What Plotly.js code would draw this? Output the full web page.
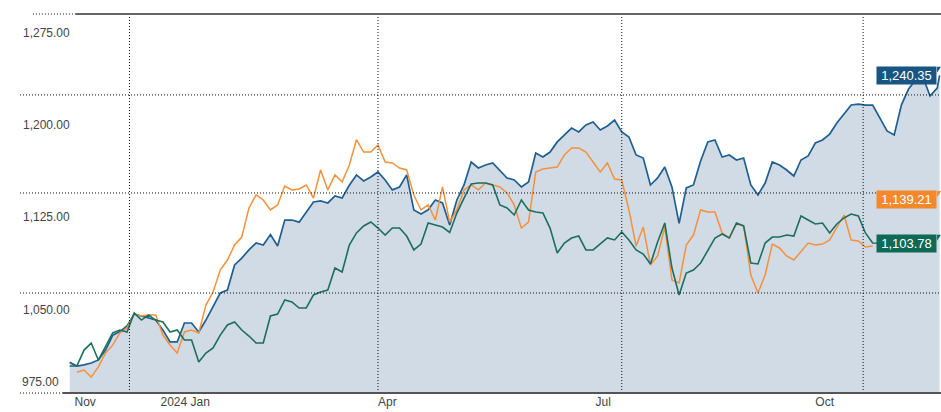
<!DOCTYPE html>
<html>
<head>
<meta charset="utf-8">
<script src="https://cdn.plot.ly/plotly-3.0.1.min.js"></script>
<style>
  html, body { margin: 0; padding: 0; background: #fff; }
  #chart { width: 941px; height: 412px; }
</style>
</head>
<body>
<div id="chart"></div>
<script>
// one point every 3 days
const dates = [
  '2023-11-24','2023-11-27','2023-11-30','2023-12-03','2023-12-06','2023-12-09','2023-12-12','2023-12-15','2023-12-18','2023-12-21',
  '2023-12-24','2023-12-27','2023-12-30','2024-01-02','2024-01-05','2024-01-08','2024-01-11','2024-01-14','2024-01-17','2024-01-20',
  '2024-01-23','2024-01-26','2024-01-29','2024-02-01','2024-02-04','2024-02-07','2024-02-10','2024-02-13','2024-02-16','2024-02-19',
  '2024-02-22','2024-02-25','2024-02-28','2024-03-02','2024-03-05','2024-03-08','2024-03-11','2024-03-14','2024-03-17','2024-03-20',
  '2024-03-23','2024-03-26','2024-03-29','2024-04-01','2024-04-04','2024-04-07','2024-04-10','2024-04-13','2024-04-16','2024-04-19',
  '2024-04-22','2024-04-25','2024-04-28','2024-05-01','2024-05-04','2024-05-07','2024-05-10','2024-05-13','2024-05-16','2024-05-19',
  '2024-05-22','2024-05-25','2024-05-28','2024-05-31','2024-06-03','2024-06-06','2024-06-09','2024-06-12','2024-06-15','2024-06-18',
  '2024-06-21','2024-06-24','2024-06-27','2024-06-30','2024-07-03','2024-07-06','2024-07-09','2024-07-12','2024-07-15','2024-07-18',
  '2024-07-21','2024-07-24','2024-07-27','2024-07-30','2024-08-02','2024-08-05','2024-08-08','2024-08-11','2024-08-14','2024-08-17',
  '2024-08-20','2024-08-23','2024-08-26','2024-08-29','2024-09-01','2024-09-04','2024-09-07','2024-09-10','2024-09-13','2024-09-16',
  '2024-09-19','2024-09-22','2024-09-25','2024-09-28','2024-10-01','2024-10-04','2024-10-07','2024-10-10','2024-10-13','2024-10-16',
  '2024-10-19','2024-10-22','2024-10-25','2024-10-28','2024-10-31','2024-11-03','2024-11-06','2024-11-09','2024-11-12','2024-11-15',
  '2024-11-18','2024-11-21','2024-11-22'
]

const blueVals = [
  1007, 1004, 1005, 1006.5, 1009, 1017, 1029, 1032, 1036.6, 1046.3,
  1044.7, 1043, 1041.4, 1033.3, 1023.6, 1023.6, 1039, 1039, 1031.7, 1041.4,
  1052, 1063.4, 1065.8, 1086.2, 1091.8, 1098.4, 1104, 1102.4, 1111, 1101.6,
  1122.7, 1122.7, 1121, 1129.2, 1137.4, 1138.2, 1136.6, 1142.3, 1140.6, 1151,
  1159.4, 1154.5, 1157.7, 1161.8, 1155.3, 1147.2, 1149.6, 1159.4, 1130.9, 1127.6,
  1131, 1139, 1136.6, 1118.7, 1139, 1151.2, 1169.9, 1165, 1167.5, 1169.1,
  1163.4, 1156.9, 1155.3, 1149.6, 1153.6, 1177.2, 1174, 1178, 1186.2, 1191.8,
  1197.5, 1194.3, 1200, 1202.4, 1195.9, 1199.2, 1204, 1194.3, 1190.2, 1175.6,
  1173.1, 1151.2, 1156.9, 1165.8, 1149.6, 1120, 1148.8, 1151.2, 1170.7, 1186.2,
  1187.8, 1173.9, 1175.6, 1171.5, 1173.1, 1151.2, 1143.1, 1152.8, 1169.9, 1167.5,
  1163.4, 1158.5, 1171.5, 1174.8, 1185.3, 1187.8, 1192.6, 1201.6, 1208.9, 1216.2,
  1217, 1216.2, 1216.2, 1205.7, 1195.1, 1191.8, 1216.2, 1229.2, 1236.6, 1239,
  1223.6, 1230, 1240.35
]

const orangeVals = [
  null, 999, 1000.8, 995, 1003.3, 1014.6, 1021, 1030.9, 1035, 1046.3,
  1044.7, 1045.5, 1045.5, 1029.2, 1021.1, 1014.6, 1031.7, 1033.3, 1030.9, 1053.6,
  1064.2, 1082.1, 1090.2, 1102.4, 1108.9, 1132.5, 1143.1, 1139, 1130.9, 1135,
  1150.4, 1147.2, 1148, 1151.2, 1140.6, 1163.4, 1147.2, 1159.4, 1153.6, 1167.5,
  1188, 1178, 1178, 1183.7, 1169.9, 1169.1, 1165, 1163.4, 1143.1, 1130.9,
  1135, 1122.7, 1149.6, 1121.1, 1130.9, 1147.2, 1151.2, 1147.2, 1152.8, 1151.2,
  1149.6, 1144.7, 1135, 1116.2, 1121.1, 1161.8, 1164.2, 1165, 1165.8, 1175.6,
  1181.3, 1181.3, 1178, 1169.9, 1161.8, 1169.1, 1156.1, 1155.3, 1130.9, 1101.6,
  1117, 1086.2, 1093.5, 1117, 1074, 1071.5, 1102.4, 1110.5, 1130.9, 1129.2,
  1129.2, 1112.2, 1108.1, 1119.5, 1117.9, 1078, 1063.4, 1078, 1103.2, 1100,
  1093.5, 1090.2, 1096.7, 1104, 1102.4, 1103.2, 1106.5, 1117, 1126.8, 1106.5,
  1105.7, 1100.8, 1101.6
]

const greenVals = [
  1004, 1004, 1017, 1022.7, 1008.9, 1020.3, 1030.9, 1033.3, 1031.7, 1047.1,
  1041.4, 1045.5, 1041.4, 1039.8, 1031.7, 1033.3, 1025.2, 1025.2, 1007.3, 1014.6,
  1018.7, 1029.2, 1037.4, 1039.8, 1033.3, 1028.4, 1022.7, 1022.7, 1044.7, 1046.3,
  1057.7, 1056.1, 1051.2, 1051.2, 1061.8, 1064.2, 1065.8, 1083.7, 1080.5, 1102.4,
  1112.2, 1117.9, 1121.1, 1116.2, 1110.5, 1116.2, 1116.2, 1109.7, 1098.4, 1103.2,
  1120.3, 1118.7, 1117, 1112.6, 1128.4, 1140.6, 1152, 1152.8, 1152.8, 1151.2,
  1135, 1132.5, 1126.8, 1139, 1130.9, 1129.2, 1128.4, 1116.2, 1095.9, 1104,
  1108.1, 1109.7, 1098.4, 1098.4, 1103.2, 1108.1, 1106.5, 1113, 1106.5, 1098.4,
  1095.1, 1087, 1104.8, 1120.3, 1083.7, 1061.8, 1079.6, 1082.1, 1087.8, 1098.4,
  1108.1, 1111.4, 1108.1, 1120.3, 1117.9, 1087.8, 1087, 1104, 1108.9, 1108.9,
  1110.5, 1109.7, 1126, 1122.7, 1119.5, 1120.3, 1112.2, 1119.5, 1124.4, 1127.6,
  1126, 1112, 1104, 1103.78
]

const lastVals = [1240.35, 1139.21, 1103.78]
const lastText = ['1,240.35', '1,139.21', '1,103.78']
const lastColors = ['#175583', '#f5882a', '#0f6a55']

const yTicks = [1050, 1125, 1200, 1275]
const xTickVals = ['2023-11-26', '2024-01-01', '2024-04-01', '2024-07-01', '2024-10-01']
const xTickText = ['Nov', '2024 Jan', 'Apr', 'Jul', 'Oct']

const gridDates = ['2023-12-19', '2024-04-01', '2024-07-12', '2024-10-21']
const gridLevels = [1224.4, 1144.7, 1063.4]

const FONT = 'Liberation Sans, Arial, sans-serif'

const chart = () => {
  const data = [
    {
      x: dates, y: blueVals, type: 'scatter', mode: 'lines',
      line: { color: '#1f5f91', width: 1.7 },
      fill: 'tozeroy', fillcolor: '#d1dbe6',
      hoverinfo: 'skip'
    },
    {
      x: dates, y: orangeVals, type: 'scatter', mode: 'lines',
      line: { color: '#f5913a', width: 1.5 },
      hoverinfo: 'skip'
    },
    {
      x: dates, y: greenVals, type: 'scatter', mode: 'lines',
      line: { color: '#1b6f5e', width: 1.6 },
      hoverinfo: 'skip'
    }
  ]

  const dotted = { color: '#111', width: 1, dash: '1px,2px' }
  const shapes = []
  gridDates.forEach(d => shapes.push({
    type: 'line', xref: 'x', yref: 'paper', x0: d, x1: d, y0: 0, y1: 1,
    line: dotted, layer: 'above'
  }))
  gridLevels.forEach(v => shapes.push({
    type: 'line', xref: 'paper', yref: 'y', x0: 0, x1: 1, y0: v, y1: v,
    line: dotted, layer: 'above'
  }))
  // top and bottom frame lines
  shapes.push({ type: 'line', xref: 'paper', yref: 'paper', x0: 0.014, x1: 0.06, y0: 1, y1: 1, line: dotted })
  shapes.push({ type: 'line', xref: 'paper', yref: 'paper', x0: 0.06, x1: 1, y0: 1, y1: 1, line: { color: '#666', width: 2 } })
  shapes.push({ type: 'line', xref: 'paper', yref: 'paper', x0: 0, x1: 0.046, y0: 0, y1: 0, line: dotted, layer: 'above' })
  shapes.push({ type: 'line', xref: 'paper', yref: 'paper', x0: 0.046, x1: 1, y0: 0, y1: 0, line: { color: '#555', width: 2 }, layer: 'above' })

  // small flag tab on the right of each value tag
  lastVals.forEach((v, i) => shapes.push({
    type: 'path', xref: 'paper', yref: 'y', layer: 'above',
    path: `M 0.9957 ${v + 7} L 1 ${v + 7} L 0.9957 ${v + 2} Z`,
    fillcolor: lastColors[i], line: { width: 0 }
  }))

  const annotations = lastVals.map((v, i) => ({
    xref: 'paper', yref: 'y', x: 0.9957, y: v, xanchor: 'right', yanchor: 'middle',
    text: lastText[i], showarrow: false,
    bgcolor: lastColors[i], borderpad: 1, width: 57, height: 15,
    font: { family: FONT, size: 13, color: '#fff' }
  }))
  annotations.push({
    xref: 'paper', yref: 'paper', x: 0, y: 0.029, xanchor: 'left', yanchor: 'middle',
    text: '975.00', showarrow: false,
    font: { family: FONT, size: 12, color: '#444' }
  })

  const layout = {
    width: 941,
    height: 412,
    margin: { l: 20, r: 0, t: 14, b: 19 },
    paper_bgcolor: '#fff',
    plot_bgcolor: '#fff',
    showlegend: false,
    xaxis: {
      type: 'date',
      range: ['2023-11-03 05:00', '2024-11-22 14:00'],
      showgrid: false, zeroline: false, showline: false, ticks: '',
      tickvals: xTickVals, ticktext: xTickText,
      ticklabelposition: 'outside right',
      tickfont: { family: FONT, size: 12, color: '#444' }
    },
    yaxis: {
      range: [982.1, 1290.2],
      showgrid: false, zeroline: false, showline: false, ticks: '',
      tickvals: yTicks, tickformat: ',.2f',
      ticklabelposition: 'inside',
      tickfont: { family: FONT, size: 12, color: '#444' }
    },
    shapes: shapes,
    annotations: annotations
  }

  Plotly.newPlot('chart', data, layout, { displayModeBar: false, staticPlot: true })
}

chart()
</script>
</body>
</html>
